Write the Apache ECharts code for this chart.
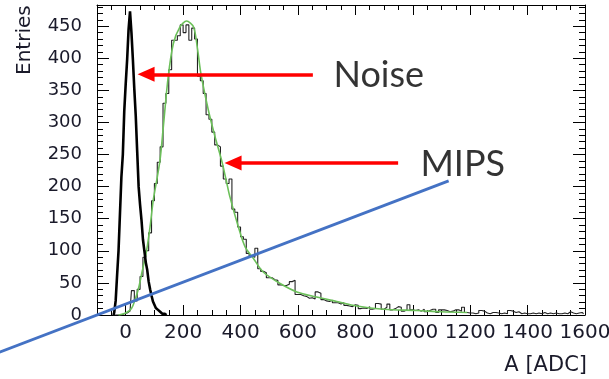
<!DOCTYPE html>
<html><head><meta charset="utf-8">
<script src="https://cdn.jsdelivr.net/npm/echarts@6/dist/echarts.min.js"></script>
<style>html,body{margin:0;padding:0;background:#fff}#c{width:609px;height:379px}</style>
</head><body><div id="c"></div>
<script>
// ---- data ----
const xTickLabels = [0, 200, 400, 600, 800, 1000, 1200, 1400, 1600];
const yTickLabels = [0, 50, 100, 150, 200, 250, 300, 350, 400, 450];

// MIPS histogram: bins of width 10 starting at centre -45
const mipsBinStart = -45;
const mipsBinWidth = 10;
const mipsCounts = [
  0, 0, 0, 0, 2, 3, 6, 38, 22, 40,
  60, 90, 100, 128, 178, 205, 238, 262, 330, 345,
  382, 428, 428, 435, 452, 440, 452, 428, 447, 430,
  372, 365, 345, 312, 305, 285, 265, 262, 232, 212,
  205, 212, 165, 160, 137, 122, 118, 96, 92, 90,
  104, 72, 68, 66, 58, 58, 55, 54, 47, 46,
  46, 48, 52, 54, 32, 32, 30, 29, 26, 27,
  25, 36, 34, 24, 22, 21, 23, 19, 19, 17,
  19, 15, 14, 13, 16, 15, 10, 11, 10, 13,
  9, 10, 18, 17, 9, 12, 17, 8, 10, 13,
  12, 6, 8, 16, 8, 7, 8, 6, 9, 5,
  7, 9, 9, 4, 8, 8, 7, 5, 6, 8,
  8, 6, 12, 4, 3, 3, 2, 3, 7, 6,
  3, 2, 4, 4, 3, 2, 3, 2, 7, 6,
  4, 5, 2, 3, 2, 2, 3, 2, 3, 2,
  4, 2, 3, 2, 3, 2, 2, 3, 2, 5,
  3, 2, 3, 4, 2
];

// Noise histogram: bins of width 5 starting at centre -42.5
const noiseBinStart = -42.5;
const noiseBinWidth = 5;
const noiseCounts = [
  0, 4, 22, 62, 100, 158, 215, 250, 318, 360,
  398, 445, 473, 440, 398, 352, 310, 255, 200, 172,
  148, 118, 100, 82, 70, 52, 40, 30, 21, 16,
  11, 8, 5, 4, 2, 2, 1, 0
];

// Fit curve
const fitX = [-25, 0, 20, 32, 45, 56, 73, 85, 96, 110, 120, 131, 148, 166, 189, 212, 236, 250, 262, 288, 311, 334, 350, 363, 392, 416, 445, 479, 538, 596, 665, 735, 805, 898, 1014, 1100, 1190];
const fitY = [0, 3, 10, 23, 42, 65, 101, 138, 179, 215, 243, 293, 371, 423, 449, 458, 449, 415, 376, 319, 278, 241, 210, 184, 138, 106, 88, 67, 49, 36, 28, 21, 14, 9, 7, 5, 4];

// Blue straight line (end points in data units)
const blueLineX = [-440, 1125];
const blueLineY = [-58, 209];

// ---- build ----
const mipsData = mipsCounts.map((v, i) => [mipsBinStart + i * mipsBinWidth, v]);
const noiseData = noiseCounts.map((v, i) => [noiseBinStart + i * noiseBinWidth, v]);
const fitData = fitX.map((x, i) => [x, fitY[i]]);

const FONT = 'DejaVu Sans';
const TXT = '#1a1a2a';
const X_MIN = -100, X_MAX = 1600, Y_MIN = 0, Y_MAX = 483;
const plain = v => String(v);

function xAx(pos, major) {
  const a = {
    type: 'value', min: X_MIN, max: X_MAX, position: pos,
    axisLine: { show: major, onZero: false, lineStyle: { color: '#000', width: 1 } },
    splitLine: { show: false },
    axisTick: { inside: true, length: major ? 10 : 5, lineStyle: { color: '#000', width: 1 } },
    axisLabel: { show: false }
  };
  if (major) { a.axisTick.customValues = xTickLabels; }
  else { a.interval = 50; }
  return a;
}
function yAx(pos, major) {
  const a = {
    type: 'value', min: Y_MIN, max: Y_MAX, position: pos,
    axisLine: { show: major, onZero: false, lineStyle: { color: '#000', width: 1 } },
    splitLine: { show: false },
    axisTick: { inside: true, length: major ? 12 : 6, lineStyle: { color: '#000', width: 1 } },
    axisLabel: { show: false }
  };
  if (major) { a.axisTick.customValues = yTickLabels; }
  else { a.interval = 10; }
  return a;
}

const xMain = xAx('bottom', true);
xMain.axisLabel = { show: true, customValues: xTickLabels, formatter: plain, margin: 8, fontSize: 20, fontFamily: FONT, color: TXT };
xMain.name = 'A [ADC]';
xMain.nameLocation = 'end';
xMain.nameGap = 2;
xMain.nameMoveOverlap = false;
xMain.nameTextStyle = { fontSize: 21, fontFamily: FONT, color: TXT, align: 'right', verticalAlign: 'top', padding: [40, 0, 0, 0] };

const yMain = yAx('left', true);
yMain.axisLabel = { show: true, customValues: yTickLabels, formatter: plain, margin: 15, fontSize: 18, fontFamily: FONT, color: TXT };
yMain.name = 'Entries';
yMain.nameLocation = 'end';
yMain.nameRotate = 90;
yMain.nameGap = -70;
yMain.nameMoveOverlap = false;
yMain.nameTextStyle = { fontSize: 20, fontFamily: FONT, color: TXT, align: 'left', verticalAlign: 'bottom', padding: [0, 0, 62, 0] };

const option = {
  animation: false,
  backgroundColor: '#fff',
  grid: { left: 97, right: 24, top: 5, bottom: 64, show: false, outerBoundsMode: 'none', containLabel: false },
  xAxis: [xMain, xAx('bottom', false), xAx('top', true), xAx('top', false)],
  yAxis: [yMain, yAx('left', false), yAx('right', true), yAx('right', false)],
  series: [
    { name: 'MIPS', type: 'line', step: 'middle', data: mipsData, showSymbol: false, silent: true,
      lineStyle: { color: '#222', width: 1.1 }, z: 2 },
    { name: 'Fit', type: 'line', smooth: 0.3, data: fitData, showSymbol: false, silent: true,
      lineStyle: { color: '#6cc05a', width: 1.6 }, z: 3 },
    { name: 'Noise', type: 'line', step: 'middle', data: noiseData, showSymbol: false, silent: true,
      lineStyle: { color: '#000', width: 2.6 }, z: 4 },
    { name: 'Arrows', type: 'line', data: [], silent: true, z: 6,
      markLine: {
        silent: true, animation: false,
        symbol: ['none', 'triangle'], symbolSize: [15, 17],
        label: { show: false },
        lineStyle: { color: '#ff0000', width: 3.5, type: 'solid' },
        emphasis: { disabled: true },
        data: [
          [{ coord: [652, 375] }, { coord: [71, 375] }],
          [{ coord: [949, 237] }, { coord: [374, 237] }]
        ]
      } },
    { name: 'Labels', type: 'scatter', silent: true, symbol: 'circle', symbolSize: 1,
      itemStyle: { color: 'transparent' }, z: 7,
      label: { show: true, position: 'right', distance: 0, formatter: p => p.data.name,
        fontFamily: 'Lato', fontSize: 36, color: '#000', align: 'left', verticalAlign: 'middle' },
      data: [ { name: 'Noise', value: [722, 374] }, { name: 'MIPS', value: [1025, 234] } ] }
  ]
};
const chart = echarts.init(document.getElementById('c'), null, { renderer: 'canvas' });
chart.setOption(option);

// Blue straight line, projected through the chart's own scales (it runs past the frame)
const p1 = chart.convertToPixel({ xAxisIndex: 0, yAxisIndex: 0 }, [blueLineX[0], blueLineY[0]]);
const p2 = chart.convertToPixel({ xAxisIndex: 0, yAxisIndex: 0 }, [blueLineX[1], blueLineY[1]]);
chart.setOption({
  graphic: [{ type: 'line', silent: true, z: 50,
    shape: { x1: p1[0], y1: p1[1], x2: p2[0], y2: p2[1] },
    style: { stroke: '#4472c4', lineWidth: 3 } }]
});
</script>
</body></html>
